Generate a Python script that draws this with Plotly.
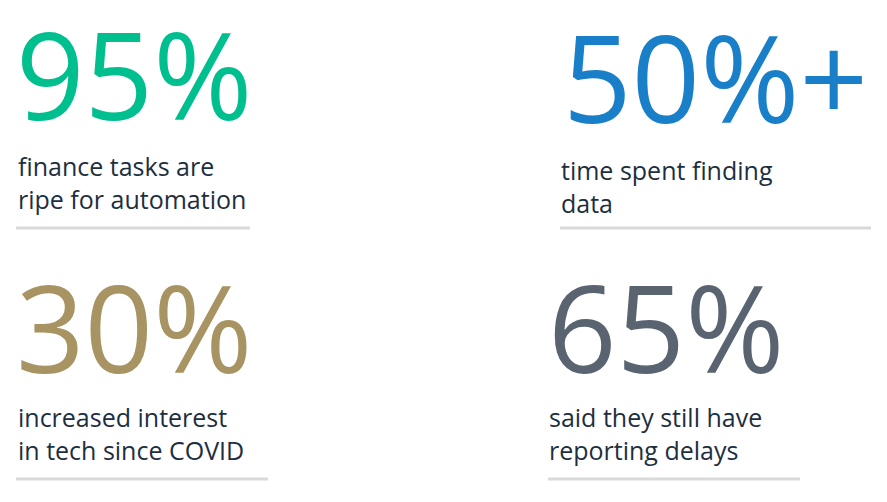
import plotly.graph_objects as go

stats = ["95%", "50%+", "30%", "65%"]
captions = ["finance tasks are<br>ripe for automation", "time spent finding<br>data",
            "increased interest<br>in tech since COVID", "said they still have<br>reporting delays"]
colors = ["#00BF8F", "#1A7FC9", "#A89463", "#5A6470"]

# layout positions (pixels, page coordinates)
num_x = [14, 561, 14, 546]
num_y = [73, 76, 326, 326]
cap_x = [16, 559, 16, 547]
cap_y = [182, 186, 433, 433]
line_x = [(16, 250), (560, 871), (16, 268), (548, 800)]
line_y = [228, 228, 479, 479]

fig = go.Figure()
for i in range(4):
    fig.add_annotation(x=num_x[i], y=num_y[i], text=stats[i], showarrow=False,
                       xanchor="left", yanchor="middle",
                       font=dict(family="Open Sans", size=120, color=colors[i]))
    fig.add_annotation(x=cap_x[i], y=cap_y[i], text=captions[i], showarrow=False,
                       xanchor="left", yanchor="middle", align="left",
                       font=dict(family="Open Sans", size=25, color="#1D2F3F"))
    fig.add_shape(type="line", x0=line_x[i][0], x1=line_x[i][1], y0=line_y[i], y1=line_y[i],
                  line=dict(color="#D9D9D9", width=3))

# page body has an 8px margin; offset axis ranges so data units equal page pixels
fig.update_layout(width=887, height=502, margin=dict(l=0, r=0, t=0, b=0),
                  plot_bgcolor="white", paper_bgcolor="white",
                  xaxis=dict(range=[8, 895], visible=False, fixedrange=True),
                  yaxis=dict(range=[510, 8], visible=False, fixedrange=True),
                  showlegend=False)
fig.write_html("out.html", config={"displayModeBar": False})
